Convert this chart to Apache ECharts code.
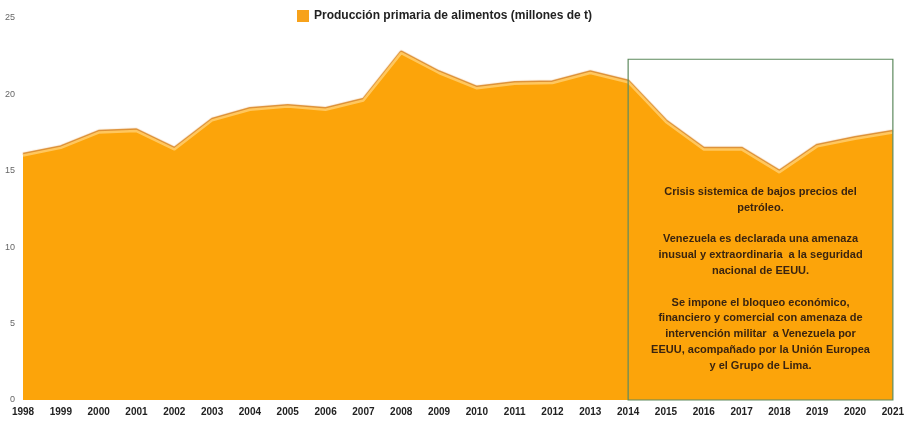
<!DOCTYPE html>
<html><head><meta charset="utf-8">
<script src="https://cdn.jsdelivr.net/npm/echarts@6/dist/echarts.min.js"></script>
<style>html,body{margin:0;padding:0;background:#fff}#c{width:907px;height:422px}</style>
</head><body><div id="c"></div>
<script>
const years = ['1998','1999','2000','2001','2002','2003','2004','2005','2006','2007','2008','2009','2010','2011','2012','2013','2014','2015','2016','2017','2018','2019','2020','2021'];
const produccion = [16.0,16.5,17.5,17.6,16.4,18.3,19.0,19.2,19.0,19.6,22.7,21.4,20.4,20.7,20.75,21.4,20.8,18.2,16.4,16.4,14.9,16.6,17.1,17.5];
const yTicks = [0,5,10,15,20,25];
const seriesName = 'Producción primaria de alimentos (millones de t)';
const boxStart = '2014', boxEnd = '2021', boxTop = 22.3;
const boxText = 'Crisis sistemica de bajos precios del\npetróleo.\n\nVenezuela es declarada una amenaza\ninusual y extraordinaria  a la seguridad\nnacional de EEUU.\n\nSe impone el bloqueo económico,\nfinanciero y comercial con amenaza de\nintervención militar  a Venezuela por\nEEUU, acompañado por la Unión Europea\ny el Grupo de Lima.';

const chart = echarts.init(document.getElementById('c'));
chart.setOption({
  animation:false,
  textStyle:{fontFamily:'Liberation Sans, Arial, sans-serif'},
  legend:{top:5,left:292,itemWidth:12,itemHeight:12,itemGap:3,icon:'rect',
    textStyle:{fontWeight:'bold',fontSize:12,color:'#222'}, data:[seriesName]},
  grid:{left:23,right:14,top:18,bottom:22},
  xAxis:{type:'category',data:years,boundaryGap:false,
    axisLine:{show:false},axisTick:{show:false},
    axisLabel:{fontWeight:'bold',fontSize:10,color:'#222',margin:7,interval:0}},
  yAxis:{type:'value',min:yTicks[0],max:yTicks[yTicks.length-1],interval:5,
    axisLine:{show:false},axisTick:{show:false},splitLine:{show:false},
    axisLabel:{fontSize:9,color:'#666',margin:8}},
  series:[{
    name:seriesName,type:'line',data:produccion,symbol:'none',z:2,
    itemStyle:{color:'#F7A21B'},
    lineStyle:{color:'#FFC75E',width:2.5,shadowColor:'rgba(215,125,20,0.9)',shadowBlur:1,shadowOffsetY:-1.5},
    areaStyle:{color:'#FCA40A',opacity:1}
  },{
    name:'box',type:'line',data:produccion,symbol:'none',z:10,silent:true,
    lineStyle:{opacity:0},
    markArea:{silent:true,z:10,
      itemStyle:{color:'rgba(0,0,0,0)',borderColor:'#5E8A5E',borderWidth:1.2},
      label:{show:true,position:'insideBottom',distance:27,formatter:boxText,
        fontWeight:'bold',fontSize:11,lineHeight:15.8,color:'#3a2410',align:'center'},
      data:[[{coord:[boxStart,0]},{coord:[boxEnd,boxTop]}]]}
  }]
});
</script></body></html>
